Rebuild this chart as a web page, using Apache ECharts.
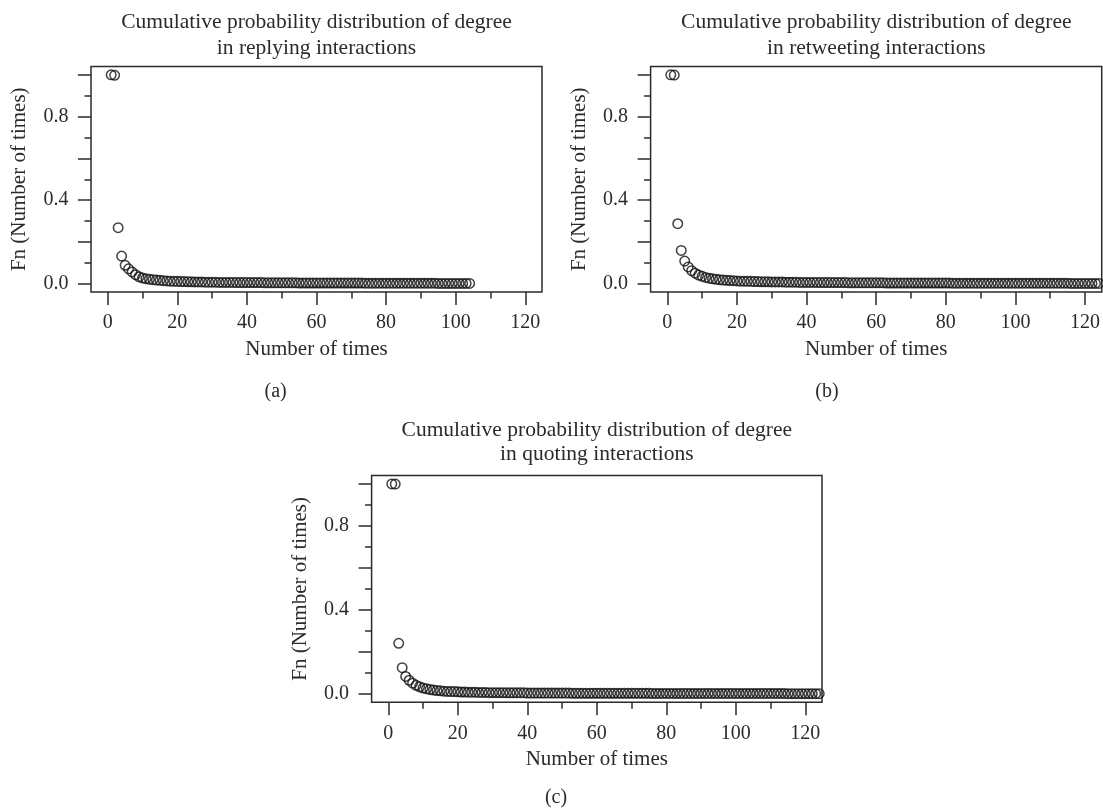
<!DOCTYPE html>
<html>
<head>
<meta charset="utf-8">
<script src="https://cdn.jsdelivr.net/npm/echarts@6/dist/echarts.min.js"></script>
<style>
html,body{margin:0;padding:0;background:#fff;}
#chart{width:1103px;height:812px;}
</style>
</head>
<body>
<div id="chart"></div>
<script>
// ---- data ----
const panelTitles = [
  ["Cumulative probability distribution of degree", "in replying interactions"],
  ["Cumulative probability distribution of degree", "in retweeting interactions"],
  ["Cumulative probability distribution of degree", "in quoting interactions"]
];
const panelLetters = ["(a)", "(b)", "(c)"];
const xName = "Number of times";
const yName = "Fn (Number of times)";
const xMajorTicks = [0, 20, 40, 60, 80, 100, 120];
const xMinorTicks = [10, 30, 50, 70, 90, 110];
const yMajorTicks = [0, 0.2, 0.4, 0.6, 0.8, 1.0];
const yLabelTicks = [0, 0.4, 0.8];
const yMinorTicks = [0.1, 0.3, 0.5, 0.7, 0.9];

const replyValues = [
  1.000, 0.998, 0.268, 0.132, 0.088, 0.071, 0.056, 0.043, 0.033, 0.027,
  0.024, 0.021, 0.019, 0.017, 0.016, 0.014, 0.013, 0.012, 0.011, 0.011,
  0.010, 0.010, 0.009, 0.009, 0.008, 0.008, 0.008, 0.007, 0.007, 0.007,
  0.007, 0.006, 0.006, 0.006, 0.006, 0.006, 0.005, 0.005, 0.005, 0.005,
  0.005, 0.005, 0.005, 0.005, 0.004, 0.004, 0.004, 0.004, 0.004, 0.004,
  0.004, 0.004, 0.004, 0.004, 0.003, 0.003, 0.003, 0.003, 0.003, 0.003,
  0.003, 0.003, 0.003, 0.003, 0.003, 0.003, 0.003, 0.003, 0.003, 0.003,
  0.003, 0.003, 0.003, 0.002, 0.002, 0.002, 0.002, 0.002, 0.002, 0.002,
  0.002, 0.002, 0.002, 0.002, 0.002, 0.002, 0.002, 0.002, 0.002, 0.002,
  0.002, 0.002, 0.002, 0.002, 0.001, 0.001, 0.001, 0.001, 0.001, 0.001,
  0.001, 0.001, 0.001, 0.001
];
const retweetValues = [
  1.000, 0.999, 0.287, 0.159, 0.108, 0.080, 0.062, 0.050, 0.041, 0.035,
  0.030, 0.026, 0.023, 0.021, 0.019, 0.017, 0.016, 0.015, 0.014, 0.013,
  0.012, 0.012, 0.011, 0.011, 0.010, 0.010, 0.009, 0.009, 0.009, 0.008,
  0.008, 0.008, 0.008, 0.007, 0.007, 0.007, 0.007, 0.006, 0.006, 0.006,
  0.006, 0.006, 0.006, 0.005, 0.005, 0.005, 0.005, 0.005, 0.005, 0.005,
  0.005, 0.004, 0.004, 0.004, 0.004, 0.004, 0.004, 0.004, 0.004, 0.004,
  0.004, 0.004, 0.003, 0.003, 0.003, 0.003, 0.003, 0.003, 0.003, 0.003,
  0.003, 0.003, 0.003, 0.003, 0.003, 0.003, 0.003, 0.003, 0.003, 0.003,
  0.003, 0.002, 0.002, 0.002, 0.002, 0.002, 0.002, 0.002, 0.002, 0.002,
  0.002, 0.002, 0.002, 0.002, 0.002, 0.002, 0.002, 0.002, 0.002, 0.002,
  0.002, 0.002, 0.002, 0.002, 0.002, 0.002, 0.002, 0.002, 0.002, 0.002,
  0.002, 0.002, 0.002, 0.002, 0.002, 0.001, 0.001, 0.001, 0.001, 0.001,
  0.001, 0.001, 0.001, 0.001, 0.001, 0.001, 0.001, 0.001, 0.001, 0.001
];
const quoteValues = [
  1.000, 0.999, 0.241, 0.125, 0.083, 0.065, 0.051, 0.041, 0.034, 0.028,
  0.024, 0.021, 0.018, 0.016, 0.015, 0.013, 0.012, 0.011, 0.011, 0.010,
  0.009, 0.009, 0.008, 0.008, 0.008, 0.007, 0.007, 0.007, 0.006, 0.006,
  0.006, 0.006, 0.006, 0.005, 0.005, 0.005, 0.005, 0.005, 0.005, 0.004,
  0.004, 0.004, 0.004, 0.004, 0.004, 0.004, 0.004, 0.004, 0.004, 0.004,
  0.004, 0.004, 0.003, 0.003, 0.003, 0.003, 0.003, 0.003, 0.003, 0.003,
  0.003, 0.003, 0.003, 0.003, 0.003, 0.003, 0.003, 0.003, 0.003, 0.003,
  0.003, 0.003, 0.003, 0.003, 0.003, 0.002, 0.002, 0.002, 0.002, 0.002,
  0.002, 0.002, 0.002, 0.002, 0.002, 0.002, 0.002, 0.002, 0.002, 0.002,
  0.002, 0.002, 0.002, 0.002, 0.002, 0.002, 0.002, 0.002, 0.002, 0.002,
  0.002, 0.002, 0.002, 0.002, 0.002, 0.002, 0.002, 0.002, 0.002, 0.002,
  0.002, 0.002, 0.002, 0.002, 0.001, 0.001, 0.001, 0.001, 0.001, 0.001,
  0.001, 0.001, 0.001, 0.001, 0.001, 0.001, 0.001, 0.001, 0.001, 0.001
];
const panelValues = [replyValues, retweetValues, quoteValues];

// ---- layout / style ----
const FONT = "'Liberation Serif', 'DejaVu Serif', serif";
const INK = '#2b2b2b';
const X_MIN = -4.8, X_MAX = 124.8, Y_MIN = -0.04, Y_MAX = 1.04;
const grids = [
  {left: 91, top: 66.5, width: 451, height: 225.5},
  {left: 650.6, top: 66.5, width: 451.4, height: 225.5},
  {left: 371.6, top: 475.5, width: 450.4, height: 226.8}
];
const titleY = [[22, 48], [22, 48], [430, 454]];
const letterPos = [[275.6, 392], [827, 392], [556, 798]];

const option = {
  backgroundColor: '#ffffff',
  animation: false,
  grid: grids.map(g => Object.assign({show: true, borderColor: INK, borderWidth: 1.5, backgroundColor: 'transparent'}, g)),
  xAxis: [],
  yAxis: [],
  series: [],
  graphic: []
};

grids.forEach((g, i) => {
  // major x axis with labels
  option.xAxis.push({
    type: 'value', gridIndex: i, min: X_MIN, max: X_MAX, position: 'bottom',
    axisLine: {show: false, onZero: false},
    splitLine: {show: false},
    axisTick: {show: true, inside: false, length: 13, customValues: xMajorTicks, lineStyle: {color: INK, width: 1.5}},
    axisLabel: {show: true, customValues: xMajorTicks, margin: 21, color: INK, fontFamily: FONT, fontSize: 20},
    name: xName, nameLocation: 'middle', nameGap: 47,
    nameTextStyle: {color: INK, fontFamily: FONT, fontSize: 21}
  });
  // minor x ticks
  option.xAxis.push({
    type: 'value', gridIndex: i, min: X_MIN, max: X_MAX, position: 'bottom',
    axisLine: {show: false, onZero: false}, splitLine: {show: false},
    axisTick: {show: true, inside: false, length: 6.5, customValues: xMinorTicks, lineStyle: {color: INK, width: 1.5}},
    axisLabel: {show: false}
  });
  option.yAxis.push({
    type: 'value', gridIndex: i, min: Y_MIN, max: Y_MAX, position: 'left',
    axisLine: {show: false, onZero: false}, splitLine: {show: false},
    axisTick: {show: true, inside: false, length: 13, customValues: yMajorTicks, lineStyle: {color: INK, width: 1.5}},
    axisLabel: {show: true, customValues: yLabelTicks, margin: 22.5, color: INK, fontFamily: FONT, fontSize: 20,
      formatter: v => Number(v).toFixed(1)},
    name: yName, nameLocation: 'middle', nameGap: 61,
    nameTextStyle: {color: INK, fontFamily: FONT, fontSize: 21}
  });
  option.yAxis.push({
    type: 'value', gridIndex: i, min: Y_MIN, max: Y_MAX, position: 'left',
    axisLine: {show: false, onZero: false}, splitLine: {show: false},
    axisTick: {show: true, inside: false, length: 6.5, customValues: yMinorTicks, lineStyle: {color: INK, width: 1.5}},
    axisLabel: {show: false}
  });
  option.series.push({
    type: 'scatter', xAxisIndex: 2 * i, yAxisIndex: 2 * i, clip: true,
    symbol: 'circle', symbolSize: 9.5,
    itemStyle: {color: 'rgba(0,0,0,0)', borderColor: '#111111', borderWidth: 1.5},
    emphasis: {disabled: true},
    data: panelValues[i].map((v, k) => [k + 1, v])
  });
  const cx = g.left + g.width / 2;
  panelTitles[i].forEach((line, j) => {
    option.graphic.push({
      type: 'text', x: cx, y: titleY[i][j],
      style: {text: line, fill: INK, font: '21.5px ' + FONT, textAlign: 'center', textVerticalAlign: 'middle'}
    });
  });
  option.graphic.push({
    type: 'text', x: letterPos[i][0], y: letterPos[i][1],
    style: {text: panelLetters[i], fill: INK, font: '20px ' + FONT, textAlign: 'center', textVerticalAlign: 'middle'}
  });
});

const chart = echarts.init(document.getElementById('chart'), null, {renderer: 'canvas'});
chart.setOption(option);
</script>
</body>
</html>
